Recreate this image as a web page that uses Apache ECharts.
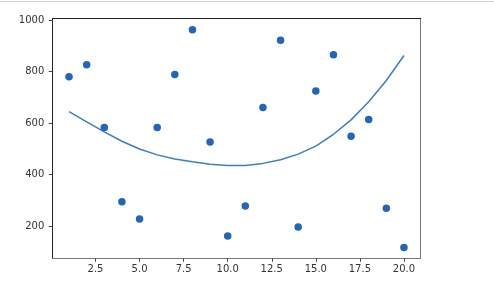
<!DOCTYPE html>
<html>
<head>
<meta charset="utf-8">
<script src="https://cdn.jsdelivr.net/npm/echarts@6/dist/echarts.min.js"></script>
<style>
html,body{margin:0;padding:0;background:#fff;}
#chart{width:494px;height:295px;}
</style>
</head>
<body>
<div id="chart"></div>
<script>
const xValues = [1,2,3,4,5,6,7,8,9,10,11,12,13,14,15,16,17,18,19,20];
const pointValues = [779,826,582,294,227,582,788,962,526,161,278,660,921,196,724,865,548,613,269,116];
const curveValues = [644,604,565,529,499,476,460,449,440,435,435,443,457,479,510,556,612,682,765,862];
const xTicks = [2.5,5,7.5,10,12.5,15,17.5,20];
const yTicks = [200,400,600,800,1000];

const chart = echarts.init(document.getElementById('chart'), null, {renderer:'canvas'});
const labelFont = {fontFamily:'DejaVu Sans', fontSize:10, color:'#333'};
const option = {
  animation:false,
  backgroundColor:'#fff',
  graphic:[{type:'line', shape:{x1:0,y1:1.5,x2:494,y2:1.5}, style:{stroke:'#d4d4d4', lineWidth:1}}],
  grid:{left:52.3, right:73.3, top:18.5, bottom:36.7, show:false},
  xAxis:[{
    type:'value', min:0.05, max:20.95, position:'bottom',
    splitLine:{show:false},
    axisLine:{show:true, lineStyle:{color:'#777', width:1}},
    axisTick:{show:true, length:3.5, customValues:xTicks, lineStyle:{color:'#444'}},
    axisLabel:Object.assign({margin:6, customValues:xTicks, formatter:v=>Number(v).toFixed(1)}, labelFont)
  },{
    type:'value', min:0.05, max:20.95, position:'top',
    splitLine:{show:false},
    axisLine:{show:true, onZero:false, lineStyle:{color:'#222', width:1}},
    axisTick:{show:false}, axisLabel:{show:false}
  }],
  yAxis:[{
    type:'value', min:74.5, max:1005.5, position:'left',
    splitLine:{show:false},
    axisLine:{show:true, onZero:false, lineStyle:{color:'#222', width:1}},
    axisTick:{show:true, length:3.5, customValues:yTicks, lineStyle:{color:'#444'}},
    axisLabel:Object.assign({margin:8, customValues:yTicks, formatter:v=>String(Math.round(v))}, labelFont)
  },{
    type:'value', min:74.5, max:1005.5, position:'right',
    splitLine:{show:false},
    axisLine:{show:true, onZero:false, lineStyle:{color:'#777', width:1}},
    axisTick:{show:false}, axisLabel:{show:false}
  }],
  series:[{
    type:'line',
    data:xValues.map((x,i)=>[x,curveValues[i]]),
    showSymbol:false, symbol:'none',
    lineStyle:{color:'#3a7ecb', width:1.5},
    z:2
  },{
    type:'scatter',
    data:xValues.map((x,i)=>[x,pointValues[i]]),
    symbolSize:7.5,
    itemStyle:{color:'#2166b8', opacity:1},
    z:3
  }]
};
chart.setOption(option);
</script>
</body>
</html>
